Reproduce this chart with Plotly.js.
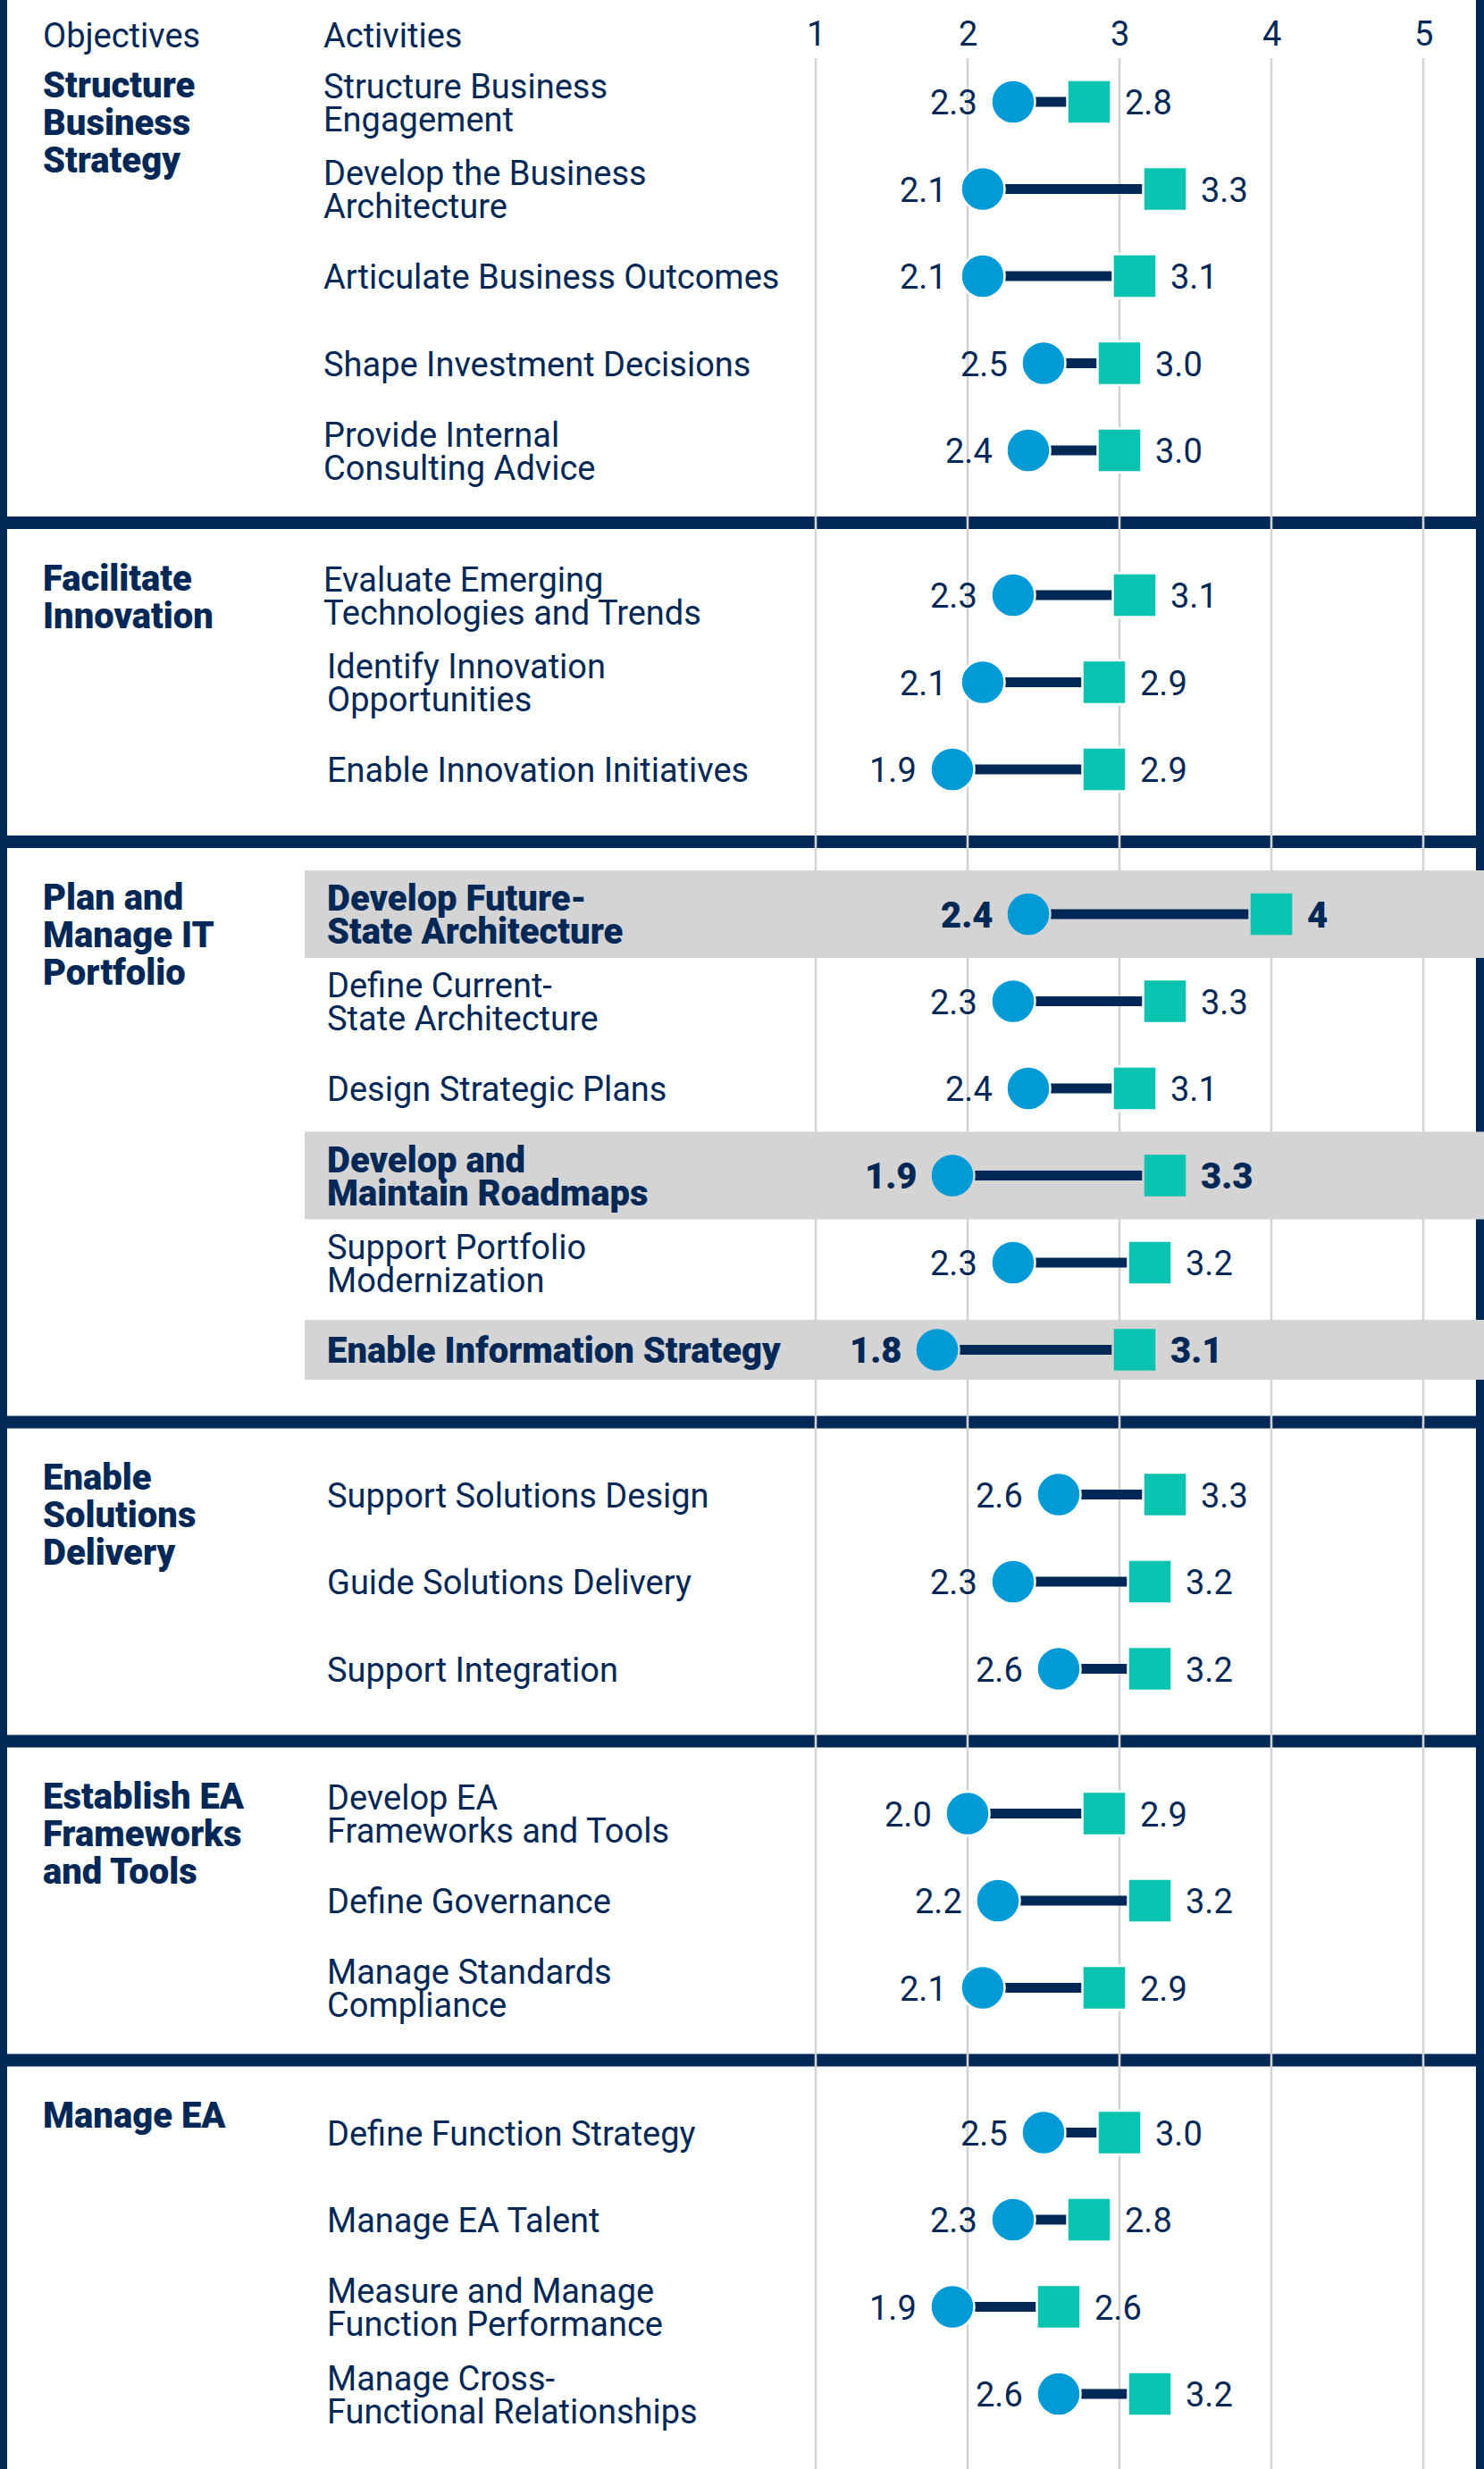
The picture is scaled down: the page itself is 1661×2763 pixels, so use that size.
<!DOCTYPE html>
<html>
<head>
<meta charset="utf-8">
<script src="https://cdn.plot.ly/plotly-3.0.1.min.js"></script>
<style>html,body{margin:0;padding:0;background:#fff;}</style>
</head>
<body>
<div id="chart" style="width:1661px;height:2763px;"></div>
<script>
// ---------------- DATA ----------------
const objectives = [
  "Structure<br>Business<br>Strategy",
  "Facilitate<br>Innovation",
  "Plan and<br>Manage IT<br>Portfolio",
  "Enable<br>Solutions<br>Delivery",
  "Establish EA<br>Frameworks<br>and Tools",
  "Manage EA"
];
const groupSizes = [5, 3, 6, 3, 3, 4];
const activities = [
  "Structure Business<br>Engagement",
  "Develop the Business<br>Architecture",
  "Articulate Business Outcomes",
  "Shape Investment Decisions",
  "Provide Internal<br>Consulting Advice",
  "Evaluate Emerging<br>Technologies and Trends",
  "Identify Innovation<br>Opportunities",
  "Enable Innovation Initiatives",
  "Develop Future-<br>State Architecture",
  "Define Current-<br>State Architecture",
  "Design Strategic Plans",
  "Develop and<br>Maintain Roadmaps",
  "Support Portfolio<br>Modernization",
  "Enable Information Strategy",
  "Support Solutions Design",
  "Guide Solutions Delivery",
  "Support Integration",
  "Develop EA<br>Frameworks and Tools",
  "Define Governance",
  "Manage Standards<br>Compliance",
  "Define Function Strategy",
  "Manage EA Talent",
  "Measure and Manage<br>Function Performance",
  "Manage Cross-<br>Functional Relationships"
];
const currentScores = [2.3, 2.1, 2.1, 2.5, 2.4, 2.3, 2.1, 1.9, 2.4, 2.3, 2.4, 1.9, 2.3, 1.8, 2.6, 2.3, 2.6, 2.0, 2.2, 2.1, 2.5, 2.3, 1.9, 2.6];
const targetScores  = [2.8, 3.3, 3.1, 3.0, 3.0, 3.1, 2.9, 2.9, 4.0, 3.3, 3.1, 3.3, 3.2, 3.1, 3.3, 3.2, 3.2, 2.9, 3.2, 2.9, 3.0, 2.8, 2.6, 3.2];
const currentLabels = ["2.3","2.1","2.1","2.5","2.4","2.3","2.1","1.9","2.4","2.3","2.4","1.9","2.3","1.8","2.6","2.3","2.6","2.0","2.2","2.1","2.5","2.3","1.9","2.6"];
const targetLabels  = ["2.8","3.3","3.1","3.0","3.0","3.1","2.9","2.9","4","3.3","3.1","3.3","3.2","3.1","3.3","3.2","3.2","2.9","3.2","2.9","3.0","2.8","2.6","3.2"];
const highlighted = [false,false,false,false,false,false,false,false,true,false,false,true,false,true,false,false,false,false,false,false,false,false,false,false];
const tickVals = [1, 2, 3, 4, 5];
const tickText = ["1", "2", "3", "4", "5"];
const headers = ["Objectives", "Activities"];

// ---------------- LAYOUT CONSTANTS ----------------
const W = 1661, H = 2763;
const NAVY = "#002856", BLUE = "#009AD7", TEAL = "#07C3AF", BAND = "#D4D4D4", GRID = "#D3D3D3";
const FONT = "Roboto, 'Open Sans', sans-serif";
const FS = 38, FSB = 40, BOLD = 900;
const PX_PER_UNIT = 170, X1PX = 913;
const xmin = 1 - X1PX / PX_PER_UNIT;
const xmax = xmin + W / PX_PER_UNIT;
const ROW0 = 114, ROW_STEP = 97.5, GROUP_GAP = 64.5;
const pxToX = px => xmin + px / PX_PER_UNIT;

// row positions (pixel units on y axis)
const rowY = [];
let idx = 0;
groupSizes.forEach((n, g) => {
  for (let k = 0; k < n; k++) {
    rowY.push(ROW0 + idx * ROW_STEP + g * GROUP_GAP);
    idx++;
  }
});
const firstRowOfGroup = [];
{ let s = 0; groupSizes.forEach(n => { firstRowOfGroup.push(s); s += n; }); }

// ---------------- SHAPES ----------------
const shapes = [];
tickVals.forEach(v => shapes.push({type:"line", xref:"x", yref:"y", x0:v, x1:v, y0:65, y1:H, line:{color:GRID, width:2.6}, layer:"below"}));
shapes.push({type:"rect", xref:"paper", yref:"y", x0:0, x1:8/W, y0:0, y1:H, fillcolor:NAVY, line:{width:0}, layer:"below"});
shapes.push({type:"rect", xref:"paper", yref:"y", x0:1652/W, x1:1, y0:0, y1:H, fillcolor:NAVY, line:{width:0}, layer:"below"});
activities.forEach((a, i) => {
  if (!highlighted[i]) return;
  const h = a.includes("<br>") ? 98 : 67;
  shapes.push({type:"rect", xref:"paper", yref:"y", x0:341/W, x1:1, y0:rowY[i]-h/2, y1:rowY[i]+h/2, fillcolor:BAND, line:{width:0}, layer:"below"});
});
for (let g = 1; g < groupSizes.length; g++) {
  const c = (rowY[firstRowOfGroup[g]-1] + rowY[firstRowOfGroup[g]]) / 2;
  shapes.push({type:"rect", xref:"paper", yref:"y", x0:0, x1:1, y0:c-7, y1:c+7, fillcolor:NAVY, line:{width:0}, layer:"below"});
}

// ---------------- ANNOTATIONS ----------------
const ann = [];
function txt(x, y, text, opts) {
  ann.push(Object.assign({x, y, xref:"x", yref:"y", text, showarrow:false, xanchor:"left", yanchor:"middle",
    font:{family:FONT, size:FS, color:NAVY}}, opts || {}));
}
// header
txt(pxToX(46), 40, headers[0]);
txt(pxToX(360), 40, headers[1]);
tickVals.forEach((v, k) => txt(v, 38, tickText[k], {xanchor:"center"}));
// objectives
objectives.forEach((o, g) => {
  const lines = o.split("<br>");
  const top = rowY[firstRowOfGroup[g]] - 19;
  lines.forEach((l, k) => txt(pxToX(46), top + k * 42, l, {font:{family:FONT, size:FSB, color:NAVY, weight:BOLD}}));
});
// activities
activities.forEach((a, i) => {
  const lines = a.split("<br>");
  const x = pxToX(i < 6 ? 360 : 364);
  const f = highlighted[i] ? {family:FONT, size:FSB, color:NAVY, weight:BOLD} : {family:FONT, size:FS, color:NAVY, weight:400};
  lines.forEach((l, k) => txt(x, rowY[i] + 1 + (k - (lines.length - 1) / 2) * 37, l, {font:f}));
});
// value labels
activities.forEach((a, i) => {
  const f = highlighted[i] ? {family:FONT, size:FSB, color:NAVY, weight:BOLD} : {family:FONT, size:FS, color:NAVY, weight:400};
  txt(currentScores[i], rowY[i] + 1, currentLabels[i], {xanchor:"right", xshift:-38, font:f});
  txt(targetScores[i], rowY[i] + 1, targetLabels[i], {xanchor:"left", xshift:38, font:f});
});

// ---------------- TRACES ----------------
const lx = [], ly = [];
currentScores.forEach((c, i) => { lx.push(c, targetScores[i], null); ly.push(rowY[i], rowY[i], null); });
const ringColors = highlighted.map(h => h ? BAND : "#FFFFFF");
const traces = [
  {type:"scatter", mode:"lines", x:lx, y:ly, line:{color:NAVY, width:11}, hoverinfo:"skip", showlegend:false},
  {type:"scatter", mode:"markers", x:currentScores, y:rowY, marker:{symbol:"circle", size:49, color:BLUE, line:{color:ringColors, width:2.5}}, showlegend:false, name:"Current"},
  {type:"scatter", mode:"markers", x:targetScores, y:rowY, marker:{symbol:"square", size:49, color:TEAL, line:{color:ringColors, width:2.5}}, showlegend:false, name:"Target"}
];

const layout = {
  width:W, height:H, margin:{l:0, r:0, t:0, b:0},
  paper_bgcolor:"#FFFFFF", plot_bgcolor:"#FFFFFF",
  xaxis:{range:[xmin, xmax], visible:false, fixedrange:true},
  yaxis:{range:[H, 0], visible:false, fixedrange:true},
  shapes, annotations:ann, showlegend:false
};
Plotly.newPlot("chart", traces, layout, {staticPlot:true, displayModeBar:false});
</script>
</body>
</html>
